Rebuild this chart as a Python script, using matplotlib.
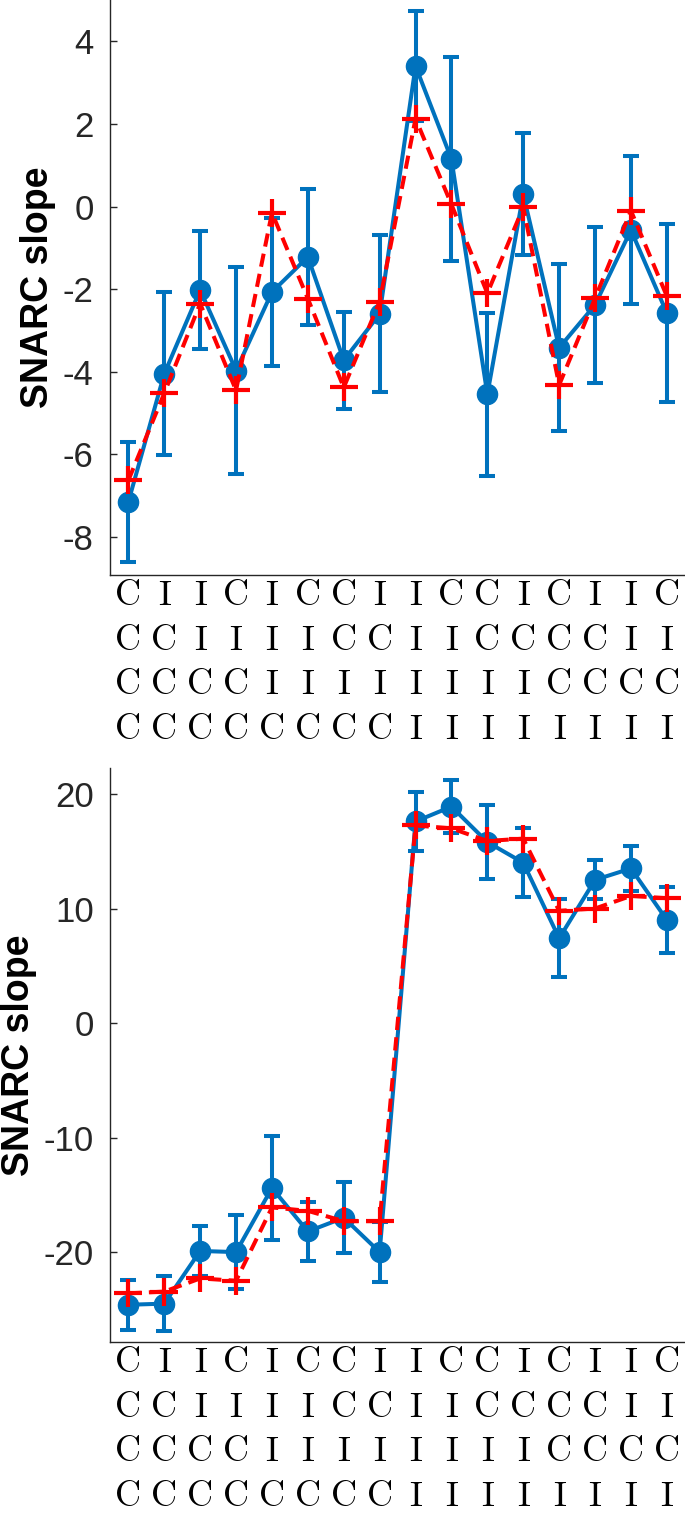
import numpy as np
import matplotlib
matplotlib.use("Agg")
import matplotlib.pyplot as plt

# condition sequences, one character per row (read top to bottom)
row1 = "CIICICCIICCICIIC"
row2 = "CCIIIICCIICCCCII"
row3 = "CCCCIIIIIIIICCCC"
row4 = "CCCCCCCCIIIIIIII"

# top panel: observed slope (mean, error) and model prediction
top_mean = [-7.15, -4.05, -2.02, -3.97, -2.07, -1.22, -3.72, -2.6,
            3.4, 1.15, -4.55, 0.3, -3.42, -2.38, -0.57, -2.58]
top_err = [1.45, 1.97, 1.42, 2.5, 1.8, 1.65, 1.17, 1.9,
           1.33, 2.47, 1.98, 1.47, 2.02, 1.88, 1.8, 2.15]
top_model = [-6.63, -4.52, -2.35, -4.45, -0.15, -2.23, -4.38, -2.3,
             2.13, 0.05, -2.1, -0.02, -4.32, -2.22, -0.1, -2.17]

# bottom panel
bot_mean = [-24.6, -24.5, -19.9, -20.0, -14.4, -18.2, -17.0, -20.0,
            17.6, 18.9, 15.8, 14.0, 7.4, 12.5, 13.5, 9.0]
bot_err = [2.2, 2.4, 2.2, 3.2, 4.5, 2.6, 3.1, 2.6,
           2.6, 2.3, 3.2, 3.0, 3.4, 1.7, 1.95, 2.85]
bot_model = [-23.6, -23.45, -22.3, -22.5, -16.1, -16.4, -17.3, -17.3,
             17.25, 17.0, 15.9, 16.1, 9.8, 10.0, 11.1, 10.9]

top_ticks = [-8, -6, -4, -2, 0, 2, 4]
bot_ticks = [-20, -10, 0, 10, 20]

blue = '#0072BD'
dark = '#262626'

W, H = 685, 1514
fig = plt.figure(figsize=(W / 100, H / 100), dpi=100)

x = np.arange(1, len(row1) + 1)
xlabels = ['\n'.join(c) for c in zip(row1, row2, row3, row4)]


def panel(rect, mean, err, model, ylim, ticks):
    ax = fig.add_axes(rect)
    ax.errorbar(x, mean, yerr=err, fmt='-o', color=blue, lw=2.9, ms=14.5,
                elinewidth=2.9, capsize=5.5, capthick=2.9, zorder=2)
    ax.plot(x, model, '--+', color='red', lw=2.9, ms=20, mew=3,
            dashes=(3.3, 1.8), zorder=3)
    ax.set_xlim(0.5, 16.5)
    ax.set_ylim(*ylim)
    ax.set_yticks(ticks)
    ax.set_yticklabels([str(t) for t in ticks], fontsize=25,
                       family='Liberation Sans', color=dark)
    ax.set_xticks(x)
    ax.set_xticklabels(xlabels, family='cmr10', fontsize=26,
                       linespacing=1.52, color='black')
    ax.tick_params(axis='y', direction='in', length=5, width=1, pad=12, colors=dark)
    ax.tick_params(axis='x', length=0, pad=4)
    for s in ['top', 'right']:
        ax.spines[s].set_visible(False)
    for s in ['left', 'bottom']:
        ax.spines[s].set_color(dark)
        ax.spines[s].set_linewidth(1)
    ax.set_ylabel('SNARC slope', fontsize=27, fontweight='bold',
                  family='Liberation Sans', labelpad=5, color='black')
    return ax


left = 110.4 / W
width = 574.4 / W
panel([left, 1 - 575 / H, width, 575 / H], top_mean, top_err, top_model,
      (-8.92, 5.0), top_ticks)
panel([left, 1 - 1342 / H, width, 574 / H], bot_mean, bot_err, bot_model,
      (-27.85, 22.27), bot_ticks)

fig.savefig('out.png', dpi=100)
